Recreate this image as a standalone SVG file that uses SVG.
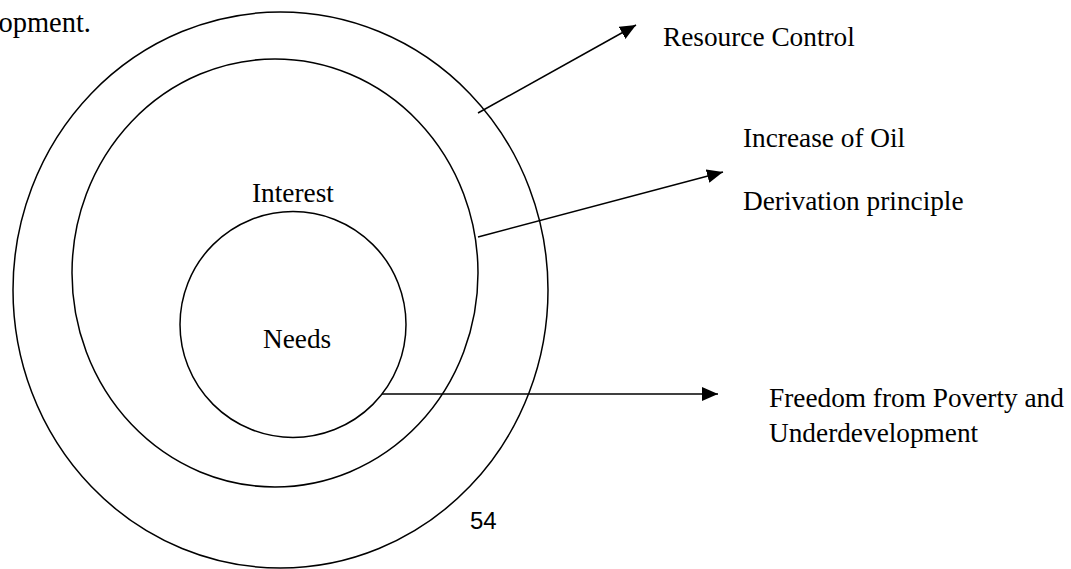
<svg xmlns="http://www.w3.org/2000/svg" width="1071" height="569" viewBox="0 0 1071 569">
  <style>
    .ring { fill: none; stroke: #000; stroke-width: 1.5; }
    .conn { fill: none; stroke: #000; stroke-width: 1.5; }
    .t { font-family: "Liberation Serif", "Times New Roman", serif; font-size: 27.3px; fill: #000; }
    .pg { font-family: "Liberation Sans Narrow", "Liberation Sans", Arial, sans-serif; font-size: 24px; fill: #000; }
  </style>
  <defs>
    <marker id="arrow" markerUnits="userSpaceOnUse" markerWidth="17" markerHeight="15" refX="16" refY="7" orient="auto">
      <path d="M0,0 L16,7 L0,14 z" fill="#000"/>
    </marker>
  </defs>
  <rect width="1071" height="569" fill="#fff"/>
  <text class="t" x="91" y="32" text-anchor="end" style="font-size:28.5px">opment.</text>
  <g id="outer">
    <ellipse class="ring" cx="280.5" cy="290" rx="267.5" ry="278"/>
  </g>
  <g id="interest">
    <ellipse class="ring" cx="275" cy="273" rx="203" ry="214"/>
    <text class="t" x="252" y="202">Interest</text>
  </g>
  <g id="needs">
    <circle class="ring" cx="293" cy="324.5" r="113"/>
    <text class="t" x="263" y="348">Needs</text>
  </g>
  <g id="connectors">
    <line class="conn" x1="478" y1="113" x2="636" y2="25" marker-end="url(#arrow)"/>
    <line class="conn" x1="478" y1="237" x2="723" y2="172" marker-end="url(#arrow)"/>
    <line class="conn" x1="382" y1="394" x2="718" y2="394" marker-end="url(#arrow)"/>
  </g>
  <g id="resource-control">
    <text class="t" x="663" y="46">Resource Control</text>
  </g>
  <g id="oil-derivation">
    <text class="t" x="743" y="147">Increase of Oil</text>
    <text class="t" x="743" y="210">Derivation principle</text>
  </g>
  <g id="freedom">
    <text class="t" x="769" y="407">Freedom from Poverty and</text>
    <text class="t" x="769" y="442">Underdevelopment</text>
  </g>
  <text class="pg" x="470" y="529">54</text>
</svg>
